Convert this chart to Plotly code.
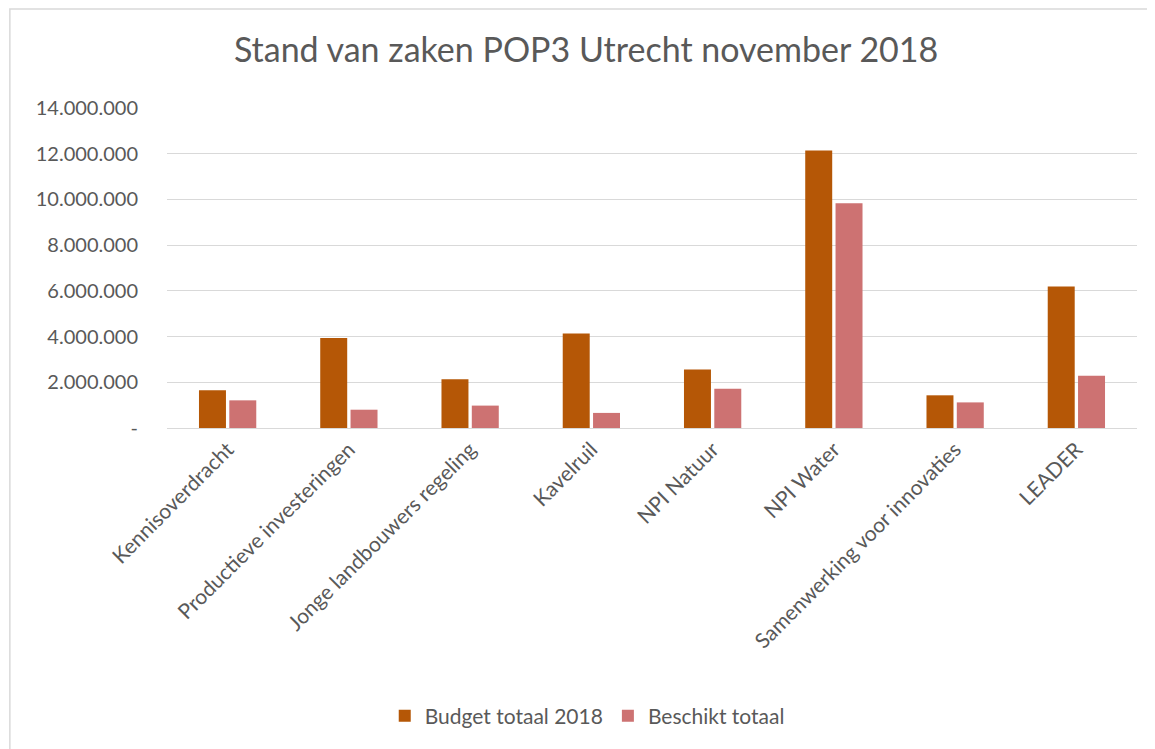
import plotly.graph_objects as go

categories = ["Kennisoverdracht", "Productieve investeringen", "Jonge landbouwers regeling",
              "Kavelruil", "NPI Natuur", "NPI Water", "Samenwerking voor innovaties", "LEADER"]
budget = [1650000, 3940000, 2130000, 4130000, 2560000, 12140000, 1430000, 6190000]
beschikt = [1210000, 800000, 980000, 660000, 1720000, 9830000, 1120000, 2290000]
tick_vals = [0, 2000000, 4000000, 6000000, 8000000, 10000000, 12000000, 14000000]
tick_text = ["-", "2.000.000", "4.000.000", "6.000.000", "8.000.000", "10.000.000", "12.000.000", "14.000.000"]

FONT = "Lato"
GREY = "#595959"

fig = go.Figure()
fig.add_trace(go.Bar(x=categories, y=budget, name="Budget totaal 2018",
                     marker=dict(color="#B55706", line=dict(width=0))))
fig.add_trace(go.Bar(x=categories, y=beschikt, name="Beschikt totaal",
                     marker=dict(color="#CD7272", line=dict(width=0))))

fig.update_layout(
    width=1147, height=741,
    margin=dict(l=159, r=18, t=100, b=321),
    paper_bgcolor="white", plot_bgcolor="white",
    barmode="group", bargap=0.5, bargroupgap=0.11,
    title=dict(text="Stand van zaken POP3 Utrecht november 2018",
               x=0.504, xanchor="center", y=0.943, yanchor="middle",
               font=dict(family=FONT, size=34, color=GREY)),
    font=dict(family=FONT, color=GREY),
    showlegend=True,
    legend=dict(orientation="h", x=0.505, xanchor="center", xref="container",
                y=0.0445, yanchor="middle", yref="container",
                font=dict(family=FONT, size=21, color=GREY),
                itemwidth=30, traceorder="normal"),
    xaxis=dict(tickangle=-45, tickfont=dict(family=FONT, size=21, color=GREY),
               showgrid=False, showline=True, linecolor="#D9D9D9", linewidth=1,
               ticks=""),
    yaxis=dict(range=[0, 14000000], tickvals=tick_vals, ticktext=tick_text,
               tickfont=dict(family=FONT, size=20, color=GREY),
               showgrid=True, gridcolor="#D9D9D9", gridwidth=1,
               zeroline=False, showline=False, ticks="", ticklabelstandoff=28),
    shapes=[dict(type="rect", xref="paper", yref="paper",
                 x0=-0.162, x1=1.03, y0=-1.2, y1=1.309,
                 line=dict(color="#D9D9D9", width=1.5), fillcolor="rgba(0,0,0,0)", layer="below")],
)

fig.write_html("out.html")
